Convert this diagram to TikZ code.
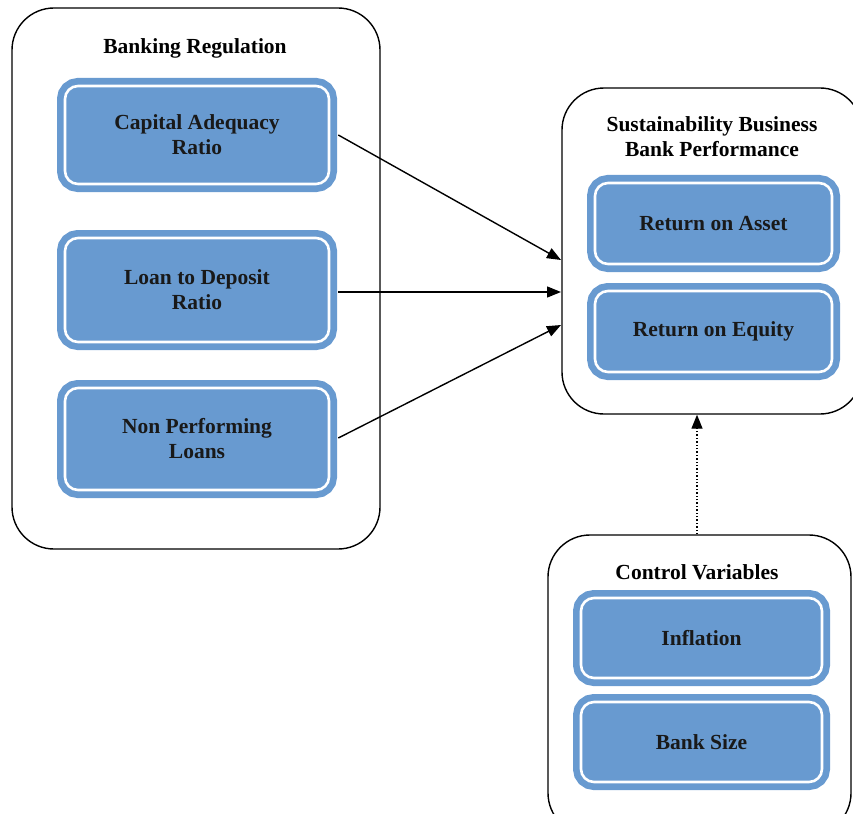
\documentclass[tikz,border=0pt]{standalone}
\usepackage{fontspec}
\setmainfont{Liberation Serif}
\usetikzlibrary{arrows.meta}
\definecolor{boxblue}{RGB}{104,154,208}
\tikzset{
  outerbox/.style={draw=black, line width=1.4pt, rounded corners=42pt, fill=white},
  varbox/.style={draw=white, line width=2.6pt, fill=boxblue, rounded corners=13pt,
    preaction={draw=boxblue, line width=16pt, rounded corners=14pt},
    align=center, font=\bfseries\fontsize{21.5}{25}\selectfont, text=black!90, inner sep=0pt},
  titletext/.style={align=center, font=\bfseries\fontsize{21.5}{25}\selectfont, inner sep=0pt},
  link/.style={line width=1.4pt, -{Triangle[length=14pt,width=11pt]}},
  dotlink/.style={line width=1.4pt, dotted, -{Triangle[length=14pt,width=11pt]}}
}
\begin{document}
\begin{tikzpicture}[x=1pt,y=-1pt]
\useasboundingbox (0,0) rectangle (853,813);
\clip (0,0) rectangle (853,813);
% outer containers
\node[outerbox, minimum width=368pt, minimum height=541pt] (reg) at (196,278.5) {};
\node[outerbox, minimum width=300pt, minimum height=326pt] (perf) at (712,251) {};
\node[outerbox, minimum width=303pt, minimum height=300pt] (ctrl) at (699.5,685) {};
% titles
\node[titletext] (regt) at (195,48) {Banking Regulation};
\node[titletext] (perft) at (712,137) {Sustainability Business\\Bank Performance};
\node[titletext] (ctrlt) at (697,572) {Control Variables};
% inner variable boxes
\node[varbox, minimum width=264pt, minimum height=98pt] (car) at (197,135) {Capital Adequacy\\Ratio};
\node[varbox, minimum width=264pt, minimum height=104pt] (ldr) at (197,290) {Loan to Deposit\\Ratio};
\node[varbox, minimum width=264pt, minimum height=102pt] (npl) at (197,439) {Non Performing\\Loans};
\node[varbox, minimum width=237pt, minimum height=81pt] (roa) at (713.5,223.5) {Return on Asset};
\node[varbox, minimum width=237pt, minimum height=81pt] (roe) at (713.5,331.5) {Return on Equity};
\node[varbox, minimum width=241pt, minimum height=80pt] (infl) at (701.5,638) {Inflation};
\node[varbox, minimum width=241pt, minimum height=80pt] (size) at (701.5,742) {Bank Size};
% connectors
\coordinate (in1) at (561,260);
\coordinate (in2) at (561,292);
\coordinate (in3) at (561,325);
\draw[link] ([xshift=8pt]car.east |- 0,135) -- (in1);
\draw[link] ([xshift=8pt]ldr.east |- in2) -- (in2);
\draw[link] ([xshift=8pt]npl.east |- 0,438) -- (in3);
\draw[dotlink] (ctrl.north -| 697,0) -- (perf.south -| 697,0);
\end{tikzpicture}
\end{document}
